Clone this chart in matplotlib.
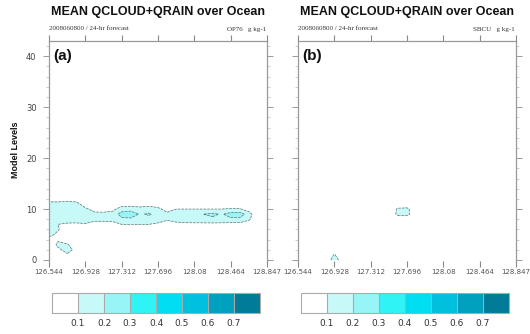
import numpy as np
import matplotlib
matplotlib.use("Agg")
import matplotlib.pyplot as plt
from matplotlib.colors import ListedColormap, BoundaryNorm
from matplotlib.ticker import MultipleLocator

# ---- data ----------------------------------------------------------------
x_ticks = [126.544, 126.928, 127.312, 127.696, 128.08, 128.464, 128.848]
x_tick_labels = ["126.544", "126.928", "127.312", "127.696", "128.08", "128.464", "128.847"]
y_ticks = [0, 10, 20, 30, 40]

lon_grid = np.linspace(126.544, 128.848, 25)
level_grid = np.arange(13)

cbar_levels = [0.1, 0.2, 0.3, 0.4, 0.5, 0.6, 0.7]
cbar_colors = ["#ffffff", "#c8f9f9", "#98f5f7", "#30f3f5",
               "#00def4", "#00c0df", "#00a0bf", "#007c98"]

# mean qcloud+qrain (g/kg), rows = model level 0..12, cols = lon_grid
qc_op76 = [
    [0] * 25,
    [0, 0, .08, .03] + [0] * 21,
    [0, .07, .15, .06] + [0] * 21,
    [0, .13, .12] + [0] * 22,
    [.06, .08] + [0] * 23,
    [.14, .07] + [0] * 23,
    [.14, .11, .03] + [0] * 22,
    [.15, .10, .08, .08, .09, .04, .04, .05, .10, .11, .10, .10, .08, .03, .06, .07, .07, .07, .07, .07, .06, .06, .02, 0, 0],
    [.17, .15, .16, .15, .15, .14, .14, .14, .18, .18, .17, .17, .15, .12, .15, .16, .17, .17, .18, .17, .18, .18, .12, 0, 0],
    [.18, .20, .19, .18, .16, .13, .13, .14, .24, .26, .19, .21, .17, .13, .16, .18, .19, .20, .22, .19, .24, .25, .15, 0, 0],
    [.17, .17, .17, .16, .12, .06, .05, .07, .15, .16, .14, .16, .13, .05, .10, .10, .10, .10, .10, .10, .11, .11, .05, 0, 0],
    [.14, .14, .15, .14, .04, 0, 0, 0, .05, .05, .04, .05, .03, 0, .02, .02, 0, 0, 0, 0, 0, 0, 0, 0, 0],
    [.04, .04, .05, .04] + [0] * 21,
]

qc_sbcu = [
    [0, 0, 0, 0, .16, .03] + [0] * 19,
    [0, 0, 0, 0, .11] + [0] * 20,
    [0] * 25,
    [0] * 25,
    [0] * 25,
    [0] * 25,
    [0] * 25,
    [0] * 25,
    [0] * 25,
    [0] * 11 + [.13, .14] + [0] * 12,
    [0] * 11 + [.12, .13] + [0] * 12,
    [0] * 25,
    [0] * 25,
]

panels = [("(a)", "OP76", qc_op76), ("(b)", "SBCU", qc_sbcu)]

# ---- figure ---------------------------------------------------------------
W, H = 530, 334
fig = plt.figure(figsize=(W / 100, H / 100), dpi=100, facecolor="white")

cmap = ListedColormap(cbar_colors)
bounds = [0.0] + cbar_levels + [0.8]
norm = BoundaryNorm(bounds, cmap.N)

ax_left = [49, 298]
ax_top, ax_bot, ax_w = 41, 261, 218
FRAME = "#9a9a9a"

for i, (tag, name, field) in enumerate(panels):
    x0 = ax_left[i]
    ax = fig.add_axes([x0 / W, 1 - ax_bot / H, ax_w / W, (ax_bot - ax_top) / H])
    z = np.array(field)
    ax.contourf(lon_grid, level_grid, z, levels=cbar_levels,
                colors=cbar_colors[1:], extend="max")
    ax.contour(lon_grid, level_grid, z, levels=[0.1, 0.2],
               colors="#6e6e6e", linewidths=0.5, linestyles="--")

    ax.set_xlim(126.544, 128.848)
    ax.set_ylim(-0.2, 43)
    ax.set_xticks(x_ticks)
    ax.set_xticklabels(x_tick_labels)
    ax.set_yticks(y_ticks)
    ax.yaxis.set_minor_locator(MultipleLocator(2))
    ax.tick_params(axis="x", which="major", direction="out", top=True, bottom=True,
                   length=4, width=0.8, color="#888888", labelsize=5,
                   labelcolor="#555555", pad=2)
    ax.tick_params(axis="y", which="major", direction="out", right=True,
                   length=4, width=0.7, color=FRAME, labelsize=6,
                   labelcolor="#444444", pad=5, labelleft=(i == 0))
    ax.tick_params(axis="y", which="minor", direction="out", right=True,
                   length=2.2, width=0.5, color="#bbbbbb")
    for side in ("top", "left", "right"):
        ax.spines[side].set_color(FRAME)
        ax.spines[side].set_linewidth(0.9)
    ax.spines["bottom"].set_visible(False)

    ax.text(0.5, 1 + (ax_top - 12) / (ax_bot - ax_top), "MEAN QCLOUD+QRAIN over Ocean",
            transform=ax.transAxes, ha="center", va="center",
            fontsize=9, fontweight="bold", family="Liberation Sans", color="#111111")
    ax.text(0.0, 1 + (ax_top - 29) / (ax_bot - ax_top), "2008060800 / 24-hr forecast",
            transform=ax.transAxes, ha="left", va="center",
            fontsize=5, family="Liberation Serif", color="#333333")
    ax.text(0.995, 1 + (ax_top - 29) / (ax_bot - ax_top), f"{name}   g kg-1",
            transform=ax.transAxes, ha="right", va="center",
            fontsize=5, family="Liberation Serif", color="#333333")
    ax.text(0.02, 1 - (56 - ax_top) / (ax_bot - ax_top), tag,
            transform=ax.transAxes, ha="left", va="center",
            fontsize=11, fontweight="bold", family="Liberation Sans", color="#111111")

    # colour bar below each panel
    cax = fig.add_axes([(x0 + 3) / W, 1 - 313 / H, 208 / W, 20 / H])
    cb = fig.colorbar(plt.cm.ScalarMappable(norm=norm, cmap=cmap), cax=cax,
                      orientation="horizontal", boundaries=bounds,
                      ticks=cbar_levels, drawedges=True)
    cb.minorticks_off()
    cb.outline.set_edgecolor("#aaaaaa")
    cb.outline.set_linewidth(0.8)
    cb.dividers.set_color("#aaaaaa")
    cb.dividers.set_linewidth(0.8)
    cax.tick_params(which="both", length=0, labelsize=6.5, labelcolor="#333333", pad=4)

fig.text(16 / W, 1 - 150 / H, "Model Levels", rotation=90, ha="center", va="center",
         fontsize=6.5, fontweight="bold", family="Liberation Sans", color="#111111")

fig.savefig("out.png", dpi=100, facecolor="white")
